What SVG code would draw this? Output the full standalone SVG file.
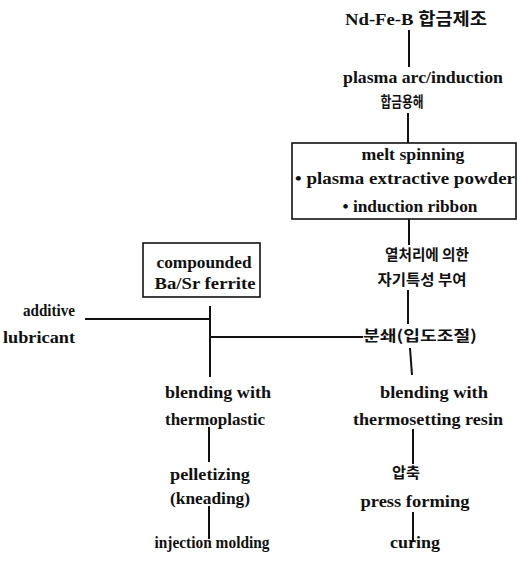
<svg xmlns="http://www.w3.org/2000/svg" width="517" height="564" viewBox="0 0 517 564">
<style>
text{font-family:"Liberation Serif","Noto Sans CJK KR",serif;font-weight:bold;font-size:17px;fill:#111;text-anchor:middle}
.k{font-family:"Noto Sans CJK KR",sans-serif;font-size:15px;font-weight:bold}
line{stroke:#111;stroke-width:2}
.box{fill:none;stroke:#111;stroke-width:1.6}
</style>
<rect width="517" height="564" fill="#fff"/>
<g id="connectors">
<line x1="409" y1="30" x2="409" y2="67"/>
<line x1="408" y1="113" x2="408" y2="143"/>
<line x1="409" y1="219" x2="409" y2="245"/>
<line x1="408" y1="290" x2="408" y2="324"/>
<line x1="410" y1="348" x2="412" y2="375"/>
<line x1="85" y1="319" x2="210" y2="319"/>
<line x1="210" y1="306" x2="210" y2="377"/>
<line x1="210" y1="337" x2="363" y2="337"/>
<line x1="209" y1="427" x2="209" y2="462"/>
<line x1="209" y1="506" x2="209" y2="539"/>
<line x1="413" y1="429" x2="413" y2="464"/>
<line x1="413" y1="512" x2="413" y2="542"/>
</g>
<g id="n_ndfeb"><text x="416" y="25" textLength="142" lengthAdjust="spacingAndGlyphs">Nd-Fe-B 합금제조</text></g>
<g id="n_plasma"><text x="423" y="83" textLength="160" lengthAdjust="spacingAndGlyphs">plasma arc/induction</text><text class="k" x="402" y="107" textLength="43" lengthAdjust="spacingAndGlyphs">합금용해</text></g>
<g id="n_melt"><rect class="box" x="292" y="143" width="224" height="76"/>
<text x="413" y="160" textLength="103" lengthAdjust="spacingAndGlyphs">melt spinning</text>
<text x="405" y="184" textLength="220" lengthAdjust="spacingAndGlyphs">• plasma extractive powder</text>
<text x="410" y="212" textLength="135" lengthAdjust="spacingAndGlyphs">• induction ribbon</text></g>
<g id="n_heat"><text class="k" x="427" y="260" textLength="84" lengthAdjust="spacingAndGlyphs">열처리에 의한</text><text class="k" x="422" y="285" textLength="89" lengthAdjust="spacingAndGlyphs">자기특성 부여</text></g>
<g id="n_crush"><text class="k" x="420" y="341" textLength="114" lengthAdjust="spacingAndGlyphs">분쇄(입도조절)</text></g>
<g id="n_ferrite"><rect class="box" x="143" y="243" width="117" height="54"/>
<text x="204" y="268" textLength="95" lengthAdjust="spacingAndGlyphs">compounded</text>
<text x="205" y="289" textLength="101" lengthAdjust="spacingAndGlyphs">Ba/Sr ferrite</text></g>
<g id="n_additive"><text x="49" y="316" textLength="52" lengthAdjust="spacingAndGlyphs">additive</text><text x="39" y="343" textLength="72" lengthAdjust="spacingAndGlyphs">lubricant</text></g>
<g id="n_blend_tp"><text x="218" y="398" textLength="106" lengthAdjust="spacingAndGlyphs">blending with</text><text x="215" y="425" textLength="100" lengthAdjust="spacingAndGlyphs">thermoplastic</text></g>
<g id="n_pellet"><text x="210" y="480" textLength="80" lengthAdjust="spacingAndGlyphs">pelletizing</text><text x="210" y="504" textLength="80" lengthAdjust="spacingAndGlyphs">(kneading)</text></g>
<g id="n_inject"><text x="212" y="548" textLength="115" lengthAdjust="spacingAndGlyphs">injection molding</text></g>
<g id="n_blend_ts"><text x="434" y="398" textLength="108" lengthAdjust="spacingAndGlyphs">blending with</text><text x="428" y="425" textLength="150" lengthAdjust="spacingAndGlyphs">thermosetting resin</text></g>
<g id="n_press"><text class="k" x="406" y="478" textLength="28" lengthAdjust="spacingAndGlyphs">압축</text><text x="415" y="507" textLength="109" lengthAdjust="spacingAndGlyphs">press forming</text></g>
<g id="n_curing"><text x="415" y="548" textLength="50" lengthAdjust="spacingAndGlyphs">curing</text></g>
</svg>
